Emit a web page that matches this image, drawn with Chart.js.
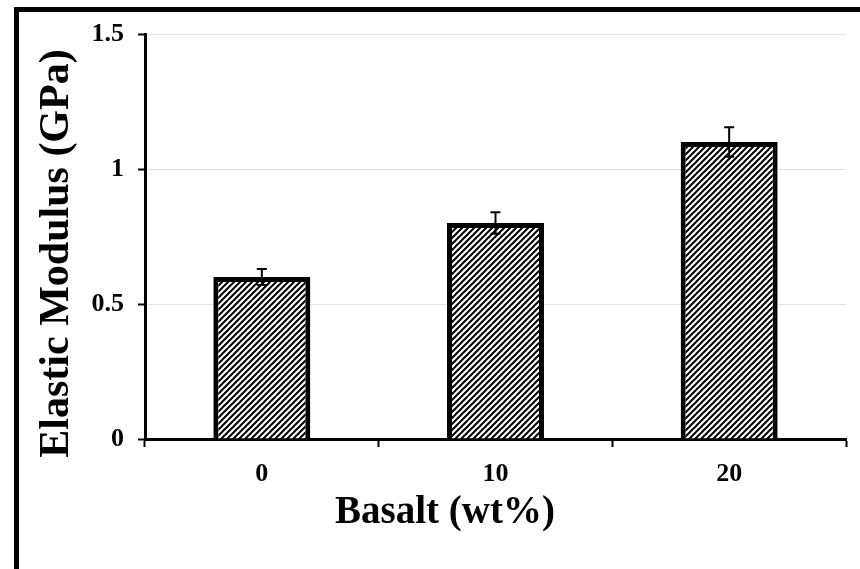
<!DOCTYPE html>
<html><head><meta charset="utf-8">
<script src="https://cdn.jsdelivr.net/npm/chart.js@4.4.0/dist/chart.umd.min.js"></script>
<style>html,body{margin:0;padding:0;background:#fff;overflow:hidden}#wrap{position:relative;width:860px;height:569px}</style>
</head><body><div id="wrap"><canvas id="c" width="860" height="569"></canvas></div>
<script>
const categories = ['0', '10', '20'];
const modulus = [0.6, 0.8, 1.1];
const modulusErr = [0.03, 0.04, 0.055];
const yTicks = [0, 0.5, 1, 1.5];
const yTickLabels = ['0', '0.5', '1', '1.5'];
const xTitle = 'Basalt (wt%)';
const yTitle = 'Elastic Modulus (GPa)';

const FONT = '"Liberation Serif", "Times New Roman", serif';

function hatchPattern() {
  const s = 6;
  const p = document.createElement('canvas');
  p.width = s; p.height = s;
  const g = p.getContext('2d');
  g.fillStyle = '#fff'; g.fillRect(0, 0, s, s);
  g.strokeStyle = '#000'; g.lineWidth = 2;
  g.beginPath();
  g.moveTo(-1, 1); g.lineTo(1, -1);
  g.moveTo(0, s); g.lineTo(s, 0);
  g.moveTo(s - 1, s + 1); g.lineTo(s + 1, s - 1);
  g.stroke();
  return g.createPattern(p, 'repeat');
}

const decor = {
  id: 'decor',
  beforeDraw(chart) {
    const ctx = chart.ctx;
    ctx.save(); ctx.fillStyle = '#fff'; ctx.fillRect(0, 0, chart.width, chart.height); ctx.restore();
  },
  afterDatasetsDraw(chart) {
    const { ctx, scales: { y } } = chart;
    const meta = chart.getDatasetMeta(0);
    ctx.save();
    ctx.strokeStyle = '#000'; ctx.lineWidth = 2;
    meta.data.forEach((bar, i) => {
      const cx = bar.x;
      const t = y.getPixelForValue(modulus[i] + modulusErr[i]);
      const b = y.getPixelForValue(modulus[i] - modulusErr[i]);
      ctx.beginPath();
      ctx.moveTo(cx, t); ctx.lineTo(cx, b);
      ctx.moveTo(cx - 5, t); ctx.lineTo(cx + 5, t);
      ctx.moveTo(cx - 5, b); ctx.lineTo(cx + 5, b);
      ctx.stroke();
    });
    ctx.restore();
  },
  afterDraw(chart) {
    const ctx = chart.ctx;
    ctx.save();
    ctx.fillStyle = '#000';
    ctx.fillRect(14, 7, 846, 5);
    ctx.fillRect(14, 7, 5, 562);
    ctx.font = 'bold 39px ' + FONT;
    ctx.textAlign = 'center'; ctx.textBaseline = 'alphabetic';
    ctx.fillText(xTitle, 445, 523);
    ctx.translate(68, 253.5);
    ctx.rotate(-Math.PI / 2);
    ctx.font = 'bold 42px ' + FONT;
    ctx.fillText(yTitle, 0, 0);
    ctx.restore();
  }
};

new Chart(document.getElementById('c'), {
  type: 'bar',
  data: {
    labels: categories,
    datasets: [{
      data: modulus,
      backgroundColor: hatchPattern(),
      borderColor: '#000',
      borderWidth: 5,
      borderSkipped: 'start',
      barPercentage: 0.415,
      categoryPercentage: 1
    }]
  },
  options: {
    responsive: false,
    animation: false,
    devicePixelRatio: 1,
    layout: { padding: { top: 34, right: 14, left: 0, bottom: 0 } },
    plugins: { legend: { display: false }, tooltip: { enabled: false } },
    scales: {
      x: {
        afterFit(s) { s.height = 130; },
        grid: { display: true, drawOnChartArea: false, offset: true, tickLength: 8, tickColor: '#000', tickWidth: 2 },
        border: { display: true, color: '#000', width: 3 },
        ticks: { color: '#000', font: { family: FONT, size: 26, weight: 'bold' }, padding: 12 }
      },
      y: {
        min: 0, max: 1.5,
        afterFit(s) { s.width = 145; },
        afterBuildTicks(s) { s.ticks = yTicks.map(v => ({ value: v })); },
        grid: { color: '#e2e2e2', lineWidth: 1, tickLength: 7, tickColor: '#000', tickWidth: 2 },
        border: { display: true, color: '#000', width: 3 },
        ticks: {
          color: '#000', font: { family: FONT, size: 26, weight: 'bold' }, padding: 14,
          callback(v, i) { return yTickLabels[i]; }
        }
      }
    }
  },
  plugins: [decor]
});
</script></body></html>
